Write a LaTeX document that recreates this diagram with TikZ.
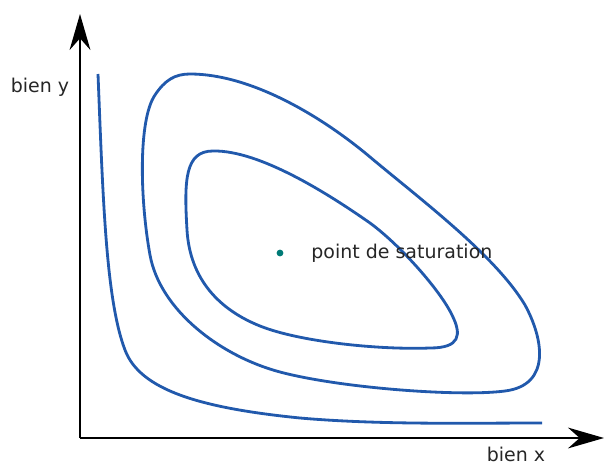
\documentclass[tikz,border=0pt]{standalone}
\usepackage{fontspec}
\setmainfont{DejaVu Sans}
\usepackage{xcolor}
\usetikzlibrary{positioning,arrows.meta}

\definecolor{curveblue}{RGB}{33,89,172}
\definecolor{satteal}{RGB}{0,122,118}

\begin{document}
\begin{tikzpicture}[x=0.025cm, y=-0.025cm,
    axis/.style={draw=black, line width=1.7pt, -{Stealth[length=0.9cm, width=0.52cm]}},
    indiff/.style={draw=curveblue, line width=2pt, line join=round},
    lab/.style={font=\fontsize{13.5}{15}\selectfont, text=black!85, inner sep=1pt}]
  \useasboundingbox (0,0) rectangle (605,465);
  % axes
  \coordinate (o) at (80,438);
  \coordinate (ytip) at (80,14);
  \coordinate (xtip) at (604,438);
  \draw[axis] (o) -- (ytip);
  \draw[axis] (o) -- (xtip);
  \node[lab] (ylab) at (40,87) {bien y};
  \node[lab] (xlab) at (516,454) {bien x};
  % indifference curves
  \draw[indiff] (98,74) .. controls (103,200) and (106,300) .. (125,350)
    .. controls (140,390) and (200,408) .. (300,418)
    .. controls (380,425) and (470,423) .. (542,423);
  \draw[indiff] (190,74) .. controls (250,74) and (320,115) .. (370,157)
    .. controls (420,199) and (495,255) .. (525,305)
    .. controls (543,338) and (552,385) .. (505,391)
    .. controls (460,397) and (340,388) .. (280,372)
    .. controls (220,356) and (160,310) .. (150,255)
    .. controls (140,200) and (138,120) .. (155,95)
    .. controls (165,80) and (175,74) .. cycle;
  \draw[indiff] (213,151) .. controls (260,150) and (330,195) .. (370,223)
    .. controls (400,245) and (440,290) .. (452,315)
    .. controls (462,335) and (460,348) .. (430,348)
    .. controls (380,350) and (300,342) .. (260,326)
    .. controls (220,310) and (190,280) .. (187,230)
    .. controls (184,180) and (185,151) .. cycle;
  % saturation point
  \node[circle, fill=satteal, inner sep=0pt, minimum size=0.17cm] (sat) at (280,253) {};
  \node[lab, right=0.65cm of sat] (satlab) {point de saturation};
\end{tikzpicture}
\end{document}
